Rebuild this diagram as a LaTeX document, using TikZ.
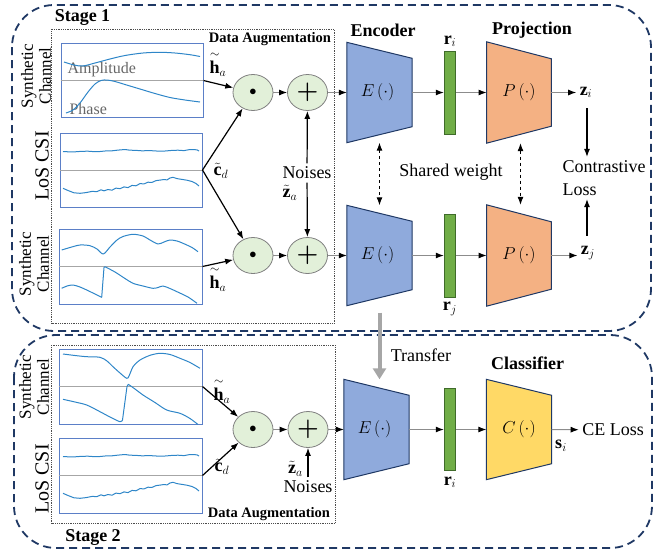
\documentclass[tikz,border=0pt]{standalone}
\usepackage{amsmath}
\usepackage{fontspec}
\setmainfont{Liberation Serif}
\usepackage{tikz}
\usetikzlibrary{arrows.meta,shapes.geometric,positioning,calc}

\definecolor{navy}{HTML}{1F3864}
\definecolor{encblue}{HTML}{8FAADC}
\definecolor{projorange}{HTML}{F4B183}
\definecolor{clsyellow}{HTML}{FFD966}
\definecolor{reprgreen}{HTML}{70AD47}
\definecolor{bardark}{HTML}{3F6B2A}
\definecolor{opgreen}{HTML}{E2F0D9}
\definecolor{curveblue}{HTML}{2E86C8}
\definecolor{framebl}{HTML}{5B7FC7}

\begin{document}
\begin{tikzpicture}[
x=1pt, y=-1pt, >={Latex[length=8pt, width=6pt]},
every node/.style = {font=\fontsize{18}{23}\selectfont},
stage-box/.style = {draw=navy, line width=1.8pt, dash pattern=on 8pt off 5pt, rounded corners=42pt},
aug-box/.style = {draw=black!70, densely dotted, line width=0.8pt},
plot-frame/.style = {draw=framebl, line width=1pt, minimum width=142pt, minimum height=74pt, inner sep=0pt},
mid-line/.style = {draw=black!35, line width=0.8pt},
curve/.style = {draw=curveblue, line width=1pt, line join=round},
op-node/.style = {ellipse, draw=black!50, fill=opgreen, line width=0.8pt, minimum width=40pt, minimum height=36pt, inner sep=0pt},
block/.style = {minimum width=65pt, minimum height=100pt, inner sep=0pt},
trap/.style = {draw=navy, line width=1pt},
repr-bar/.style = {draw=bardark, fill=reprgreen, line width=1pt, minimum width=11.5pt, minimum height=83pt, inner sep=0pt},
flow/.style = {draw=black!45, line width=1pt, -{Latex[black, length=8pt, width=6pt]}},
sig/.style = {draw=black, line width=1.2pt, ->},
side-label/.style = {rotate=90, align=center, font=\fontsize{17}{18}\selectfont},
title/.style = {font=\fontsize{18}{22}\selectfont\bfseries},
aug-title/.style = {font=\fontsize{14.5}{16}\selectfont\bfseries},
plot-text/.style = {anchor=west, text=black!60, font=\fontsize{16}{18}\selectfont},
vec-label/.style = {inner sep=1pt},
op-sym/.style = {font=\fontsize{30}{30}\selectfont}
]
\useasboundingbox (0,0) rectangle (667,550);

% stage frames
\draw[stage-box] (12,5) rectangle (651,331);
\draw[stage-box] (14,335) rectangle (652,548);
\node[title] (stageA) at (82.5,18) {Stage 1};
\node[title] (stageB) at (93,538) {Stage 2};

% data augmentation frames
\draw[aug-box] (51.7,29.3) rectangle (334.3,323.3);
\draw[aug-box] (51.7,345) rectangle (335,523.3);
\node[aug-title] (augA) at (270,39.5) {Data Augmentation};
\node[aug-title] (augB) at (269,514) {Data Augmentation};

% input plots
\node[plot-frame] (synA) at (132,80.5) {};
\node[plot-frame] (losA) at (131,170) {};
\node[plot-frame, minimum width=143pt, minimum height=75pt] (synB) at (130.5,266.5) {};
\node[plot-frame, minimum width=143pt, minimum height=75pt] (synC) at (130.5,386.5) {};
\node[plot-frame, minimum width=143pt, minimum height=75pt] (losC) at (130.5,475.5) {};
\foreach \p in {synA,losA,synB,synC,losC}
  \draw[mid-line] (\p.west) -- (\p.east);

\node[plot-text] (ampl) at (64,70) {Amplitude};
\node[plot-text] (phase) at (66,109) {Phase};

% synthetic channel, stage 1 top
\draw[curve] plot[smooth] coordinates {(64,62) (74,65) (83,66) (95,63) (110,59) (125,55.5) (143,53) (160,52.3) (175,53) (190,54.7) (200,56.5)};
\draw[curve] plot[smooth] coordinates {(66,113) (73,110) (80,103) (88,92) (95,84) (101,80.5) (107,80) (115,81.5) (125,84.5) (140,89) (155,93.5) (170,97.5) (185,100) (200,102)};

% LoS CSI (same trace in both stages)
\foreach \dy in {0,305}{
\begin{scope}[shift={(0,\dy)}]
\draw[curve] (63,151.5) -- (70,151.9) -- (75,151.8) -- (82,151.3) -- (88,151.2) -- (95,151.7) -- (100,151.5) -- (106,150.9) -- (112,150.8) -- (118,150.1) -- (125,149.5) -- (130,150.2) -- (135,150.3) -- (142,150.8) -- (150,150.6) -- (158,151.1) -- (165,151) -- (172,150.4) -- (178,150.2) -- (184,150.6) -- (190,149.5) -- (197,149.8) -- (199,151);
\draw[curve] (63,188.3) -- (68,190.5) -- (74,192.8) -- (80,193.3) -- (86,192.6) -- (92,191.4) -- (97,191.6) -- (101,189.8) -- (104,190.8) -- (108,189.5) -- (112,190.2) -- (116,188.1) -- (120,188.7) -- (124,186.9) -- (128,187.6) -- (132,185.4) -- (136,185.8) -- (140,183.6) -- (144,183.9) -- (148,182.2) -- (152,182.4) -- (156,180.6) -- (160,180.1) -- (164,179.5) -- (167,179.9) -- (170,178) -- (173,177.3) -- (177,178.6) -- (182,179.4) -- (187,180.2) -- (192,181.5) -- (196,183.5) -- (199,186);
\end{scope}}

% synthetic channel, stage 1 bottom
\draw[curve] plot[smooth] coordinates {(61.7,250) (70,247.5) (80,245) (90,245.7) (97,249) (103.3,254) (110,247) (117,240) (123,236.5) (133,234.3) (143,236) (150,240) (158,244) (164,242) (170,240) (177,241) (183,243.3) (192,247.5) (198,251.7)};
\draw[curve] plot[smooth] coordinates {(61.7,288.3) (67,286) (73,285) (80,287) (86.7,290) (95,294) (101.7,297.3)} -- (104,267.5) -- plot[smooth] coordinates {(105,266.7) (115,272) (125,278.5) (133,283.3) (143,286) (153,288.3) (158,287.5) (163,286) (170,288.5) (177,291.7) (188,297) (197,303.3)};

% synthetic channel, stage 2
\draw[curve] plot[smooth] coordinates {(63,354) (75,355.5) (86.7,356.7) (100,357.3) (107,361) (113,366.7) (120,373) (126.7,378.3) (129,376) (133,366.7) (138,361.5) (143,358.3) (151,355) (160,353.3) (170,354.5) (180,358.3) (190,362.5) (200,368.3)};
\draw[curve] plot[smooth] coordinates {(63,399.3) (75,402) (86.7,405) (100,411.7) (110,417) (120,421.7) (122.5,420)} -- (127,386.5) -- plot[smooth] coordinates {(128.3,384.3) (135,389) (143,395) (155,402.5) (166.7,410) (180,413.3) (190,418.5) (198,424.5)};

% side labels
\node[side-label] (synA-lab) at (36,76) {Synthetic\\Channel};
\node[side-label, font=\fontsize{20}{22}\selectfont] (losA-lab) at (42,166) {LoS CSI};
\node[side-label] (synB-lab) at (34,264) {Synthetic\\Channel};
\node[side-label] (synC-lab) at (34,387) {Synthetic\\Channel};
\node[side-label, font=\fontsize{20}{22}\selectfont] (losC-lab) at (42,479) {LoS CSI};

% augmentation operators
\node[op-node] (dotA) at (253,92.5) {\fontsize{14}{14}\selectfont$\bullet$};
\node[op-node, op-sym] (plusA) at (307.5,92.5) {$\boldsymbol{+}$};
\node[op-node] (dotB) at (253,255.5) {\fontsize{14}{14}\selectfont$\bullet$};
\node[op-node, op-sym] (plusB) at (307.5,255.5) {$\boldsymbol{+}$};
\node[op-node] (dotC) at (253,429.5) {\fontsize{14}{14}\selectfont$\bullet$};
\node[op-node, op-sym] (plusC) at (308,429.5) {$\boldsymbol{+}$};

\node (noiseA) at (307,173) {Noises};
\node[vec-label] (zA) at (290,193) {$\tilde{\mathbf{z}}_a$};
\node (noiseC) at (308,487) {Noises};
\node[vec-label] (zC) at (295.5,469) {$\tilde{\mathbf{z}}_a$};

\node[vec-label] (hA) at (218,64) {$\overset{\sim}{\mathbf{h}}_a$};
\node[vec-label] (cA) at (221,171) {$\tilde{\mathbf{c}}_d$};
\node[vec-label] (hB) at (218,279) {$\overset{\sim}{\mathbf{h}}_a$};
\node[vec-label] (hC) at (222,391) {$\overset{\sim}{\mathbf{h}}_a$};
\node[vec-label] (cC) at (222,467) {$\tilde{\mathbf{c}}_d$};

\draw[sig] (synA.east) -- (dotA);
\draw[sig] (losA.east) -- (dotA);
\draw[sig] (losA.east) -- (dotB);
\draw[sig] (synB.east) -- (dotB);
\draw[sig] (synC.east) -- (dotC);
\draw[sig] (losC.east) -- (dotC);
\draw[sig] (noiseA) -- (plusA);
\draw[sig] (noiseA) -- (plusB);
\draw[sig] (noiseC) -- (plusC);
\draw[flow] (dotA) -- (plusA);
\draw[flow] (dotB) -- (plusB);
\draw[flow] (dotC) -- (plusC);

% encoders, projections and classifier
\node[block] (encA) at (379.5,92.5) {};
\node[block] (encB) at (379.5,255.5) {};
\node[block] (encC) at (376.5,429.5) {};
\node[block, minimum width=64.5pt, minimum height=101pt] (projA) at (519,92.5) {};
\node[block, minimum width=64.5pt, minimum height=101pt] (projB) at (519,255.5) {};
\node[block, minimum width=65pt] (clsC) at (519,429.5) {};

\foreach \b in {encA,encB,encC}
  \draw[trap, fill=encblue] (\b.north west) -- ($(\b.north east)+(0,16)$) -- ($(\b.south east)+(0,-16)$) -- (\b.south west) -- cycle;
\foreach \b in {projA,projB}
  \draw[trap, fill=projorange] (\b.north west) -- ($(\b.north east)+(0,17)$) -- ($(\b.south east)+(0,-17)$) -- (\b.south west) -- cycle;
\draw[trap, fill=clsyellow] (clsC.north west) -- ($(clsC.north east)+(0,16)$) -- ($(clsC.south east)+(0,-16)$) -- (clsC.south west) -- cycle;

\foreach \b in {encA,encB,encC}
  \node at ([xshift=-2pt]\b) {$E\,(\cdot)$};
\foreach \b in {projA,projB}
  \node at (\b) {$P\,(\cdot)$};
\node at (clsC) {$C\,(\cdot)$};

\node[title] (encA-lab) at (383,30) {Encoder};
\node[title] (projA-lab) at (532,30) {Projection};
\node[title] (clsC-lab) at (527.5,363) {Classifier};

% representations
\node[repr-bar] (barA) at (450,92.5) {};
\node[repr-bar] (barB) at (450,255.5) {};
\node[repr-bar, minimum height=82pt] (barC) at (450,429.5) {};
\node[above=0pt of barA] (ri) {$\mathbf{r}_i$};
\node[below=1pt of barB] (rj) {$\mathbf{r}_j$};
\node[below=2pt of barC] (rk) {$\mathbf{r}_i$};

\foreach \r in {A,B,C}{
  \draw[flow] (plus\r) -- (plus\r -| enc\r.west);
  \draw[flow] (enc\r.east) -- (bar\r);
}
\draw[flow] (barA) -- (projA.west);
\draw[flow] (barB) -- (projB.west);
\draw[flow] (barC) -- (clsC.west);

% outputs
\node (zi) at (586,92.5) {$\mathbf{z}_i$};
\node (zj) at (588,253) {$\mathbf{z}_j$};
\node[align=left] (closs) at (604,178) {Contrastive\\Loss};
\node (celoss) at (613,430) {CE Loss};
\node (si) at (561,446) {$\mathbf{s}_i$};
\draw[flow] (projA.east) -- (zi);
\draw[flow] (projB.east) -- (projB.east -| zj.west);
\draw[flow] (clsC.east) -- (celoss);
\draw[sig] ([xshift=1pt, yshift=-7pt]zi.south) -- ([xshift=1pt]zi.south |- closs.north);
\draw[sig] ([xshift=-1pt, yshift=7pt]zj.north) -- ([xshift=-1pt]zj.north |- closs.south);

% shared weights and transfer
\draw[dashed, line width=1pt, <->] (encA) -- (encB);
\draw[dashed, line width=1pt, <->] ([xshift=1.5pt]projA.south) -- ([xshift=1.5pt]projB.north);
\node (shared) at (451,172) {Shared weight};
\draw[line width=4pt, black!35, -{Triangle[length=11pt, width=13pt]}, shorten <=7pt] (encB.south) -- (encB.south |- encC.north);
\node (transfer) at (421,355) {Transfer};

\end{tikzpicture}
\end{document}
